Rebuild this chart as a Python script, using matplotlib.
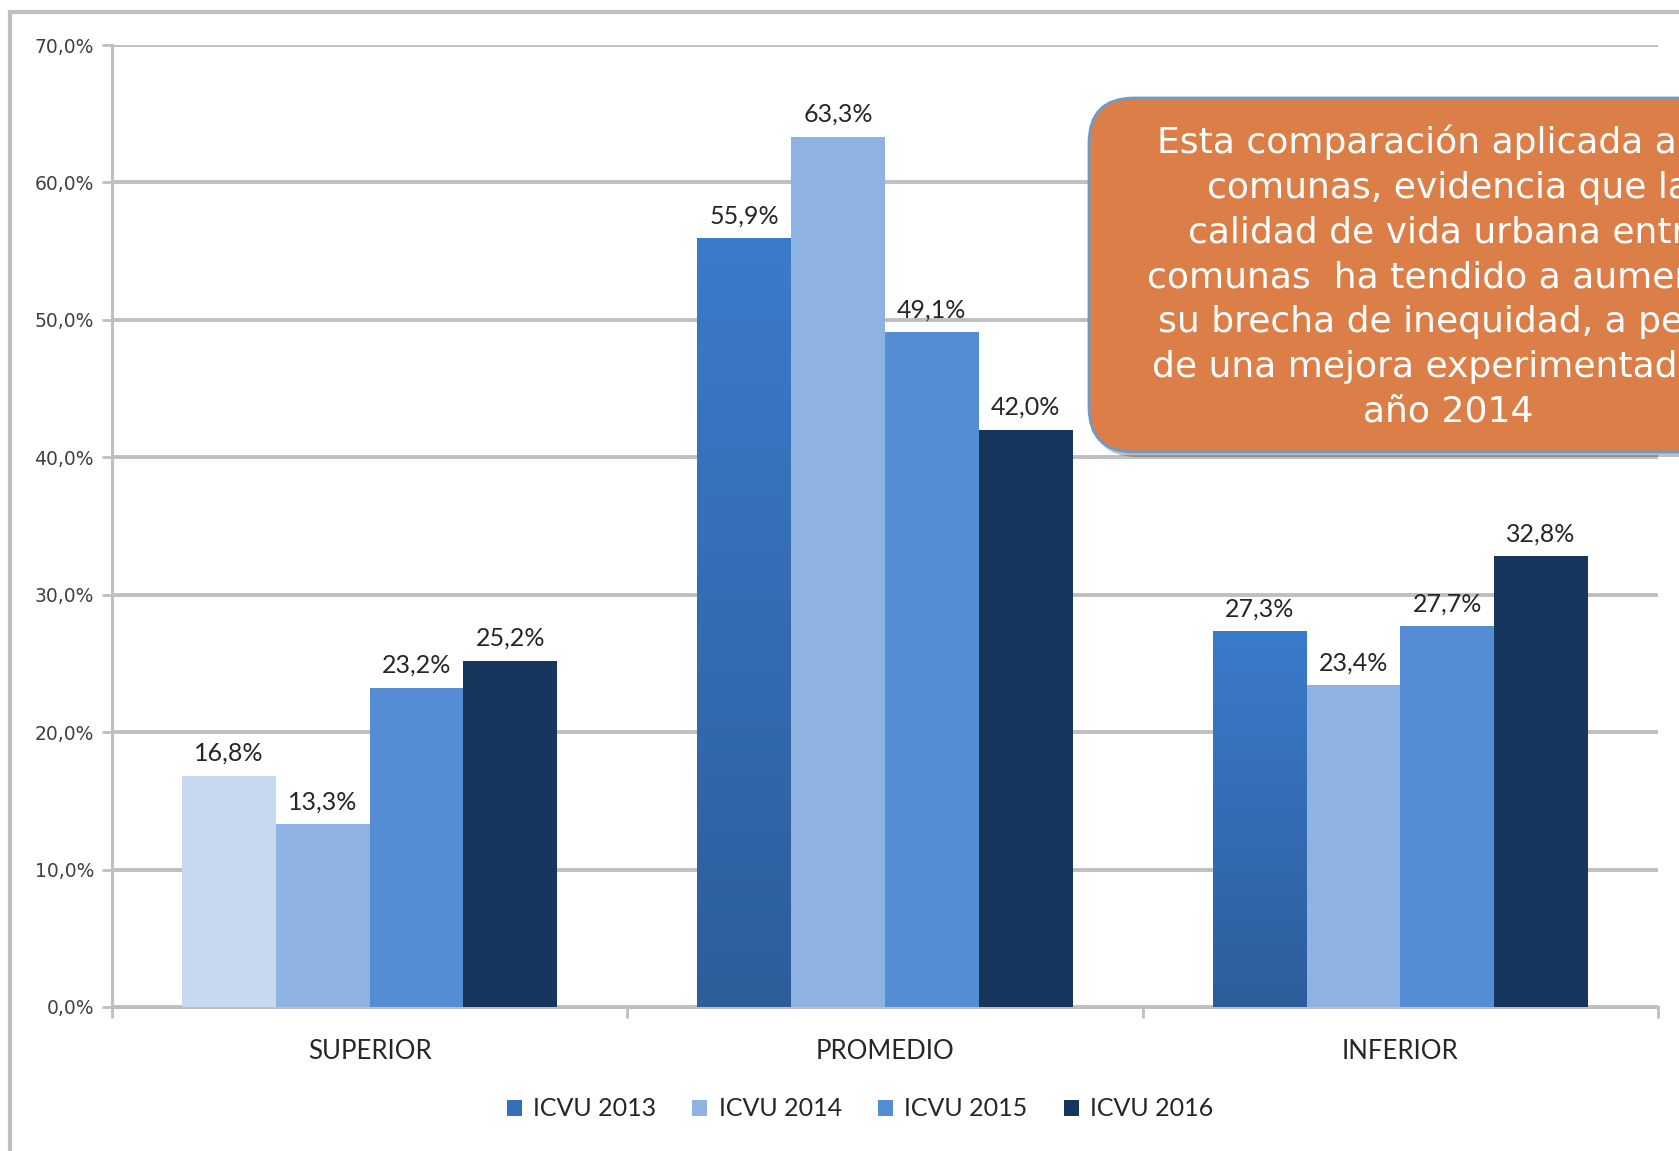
import numpy as np
import matplotlib

matplotlib.use("Agg")
import matplotlib.pyplot as plt
from matplotlib.patches import FancyBboxPatch, Rectangle, Patch

categories = ["SUPERIOR", "PROMEDIO", "INFERIOR"]
series = ["ICVU 2013", "ICVU 2014", "ICVU 2015", "ICVU 2016"]
icvu_2013 = [16.8, 55.9, 27.3]
icvu_2014 = [13.3, 63.3, 23.4]
icvu_2015 = [23.2, 49.1, 27.7]
icvu_2016 = [25.2, 42.0, 32.8]
values = [icvu_2013, icvu_2014, icvu_2015, icvu_2016]
yticks = [0, 10, 20, 30, 40, 50, 60, 70]

callout_lines = [
    "Esta comparación aplicada a las",
    "comunas, evidencia que la",
    "calidad de vida urbana entre",
    "comunas  ha tendido a aumentar",
    "su brecha de inequidad, a pesar",
    "de una mejora experimentada el",
    "año 2014",
]

colors = ["#3471bd", "#8eb3e2", "#548dd4", "#17365d"]
grad_top, grad_bottom = "#3b7bcb", "#2d5d9b"
superior_2013 = "#c6d9f0"

fig = plt.figure(figsize=(16.79, 11.51), dpi=100)
ax = fig.add_axes([112 / 1679, 1 - 1007 / 1151, (1658 - 112) / 1679, (1007 - 45) / 1151])

x = np.arange(len(categories))
width = 0.182
offsets = (np.arange(4) - 1.5) * width

for i, (name, vals) in enumerate(zip(series, values)):
    bars = ax.bar(x + offsets[i], vals, width, color=colors[i], zorder=3, linewidth=0)
    if i == 0:
        # first bar of SUPERIOR is a pale tint, the other two get a vertical gradient
        bars[0].set_facecolor(superior_2013)
        c0 = np.array(matplotlib.colors.to_rgb(grad_bottom))
        c1 = np.array(matplotlib.colors.to_rgb(grad_top))
        t = np.linspace(0, 1, 256)[:, None]
        img = (c0 + (c1 - c0) * t)[:, None, :]
        for b in list(bars)[1:]:
            b.set_facecolor("none")
            ax.imshow(img, extent=(b.get_x(), b.get_x() + b.get_width(), 0, b.get_height()),
                      origin="lower", aspect="auto", zorder=3)
    for b, v in zip(bars, vals):
        ax.annotate(f"{v:.1f}%".replace(".", ","), (b.get_x() + b.get_width() / 2, v),
                    xytext=(0, 8), textcoords="offset points", ha="center", va="bottom",
                    fontsize=18, color="#262626", family="Lato", zorder=5)

ax.set_xlim(-0.5, 2.5)
ax.set_ylim(0, 70)
ax.set_yticks(yticks)
ax.set_yticklabels([f"{v:.1f}%".replace(".", ",") for v in yticks], fontsize=13.5,
                   color="#404040")
ax.yaxis.grid(True, color="#bfbfbf", linewidth=2.8, zorder=0)
ax.set_axisbelow(True)
ax.tick_params(axis="y", length=7, width=2, color="#bfbfbf", pad=6)

ax.set_xticks([-0.5, 0.5, 1.5, 2.5])
ax.set_xticklabels([])
ax.set_xticks(x, minor=True)
ax.set_xticklabels(categories, minor=True, fontsize=18.5, family="Lato", color="#262626")
ax.tick_params(axis="x", which="major", length=8, width=2, color="#bfbfbf")
ax.tick_params(axis="x", which="minor", length=0, pad=23)

for side in ["top", "right"]:
    ax.spines[side].set_visible(False)
for side in ["left", "bottom"]:
    ax.spines[side].set_color("#bfbfbf")
    ax.spines[side].set_linewidth(2.2)

handles = [Patch(facecolor=c, edgecolor="none") for c in ["#3470ba"] + colors[1:]]
leg = ax.legend(handles, series, loc="center", bbox_to_anchor=(860 / 1679, 1 - 1109 / 1151),
                bbox_transform=fig.transFigure, ncol=4, frameon=False,
                prop={"family": "Lato", "size": 18}, handlelength=0.6, handleheight=0.6,
                handletextpad=0.45, columnspacing=1.45)
for t in leg.get_texts():
    t.set_color("#262626")

# outer frame (only top and left edges fall inside the image)
fig.patches.append(Rectangle((10 / 1679, -0.1), 1.2, 1 - 12 / 1151 + 0.1, transform=fig.transFigure,
                             fill=False, edgecolor="#c0c0c0", linewidth=3, zorder=0))

# callout box with shadow
tr = fig.dpi_scale_trans
box_x, box_y, box_w, box_h = 10.89, 6.99, 7.5, 3.54
shadow = FancyBboxPatch((box_x + 0.03, box_y - 0.05), box_w, box_h,
                        boxstyle="round,pad=0,rounding_size=0.45", transform=tr,
                        facecolor="#000000", alpha=0.25, edgecolor="none", zorder=8)
box = FancyBboxPatch((box_x, box_y), box_w, box_h,
                     boxstyle="round,pad=0,rounding_size=0.45", transform=tr,
                     facecolor="#dc7e48", edgecolor="#6d9bc8", linewidth=2, zorder=9)
fig.patches.extend([shadow, box])
for k, line in enumerate(callout_lines):
    baseline = 153 + 44.7 * k
    fig.text(14.48, (1151 - baseline) / 100, line, transform=tr, ha="center", va="baseline",
             fontsize=26, color="white", family="DejaVu Sans", zorder=10)

fig.savefig("out.png", dpi=100)
